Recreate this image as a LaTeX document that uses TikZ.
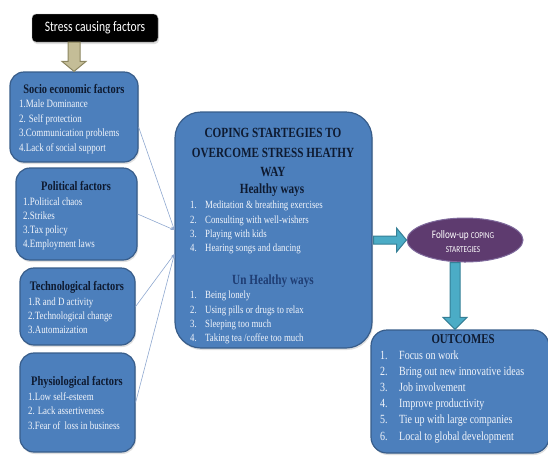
\documentclass[tikz,border=0pt]{standalone}
\usepackage{fontspec}
\setmainfont{Liberation Serif}[FakeStretch=0.8]
\newfontfamily\carl{Carlito}[FakeStretch=0.8]
\usetikzlibrary{shapes.geometric,calc,arrows.meta,shadows}
\definecolor{boxfill}{HTML}{4C7FBC}
\definecolor{boxedge}{HTML}{385D8A}
\definecolor{headcol}{HTML}{0E1A30}
\definecolor{unhcol}{HTML}{1F3D73}
\definecolor{itemcol}{HTML}{F2F5FB}
\definecolor{khaki}{HTML}{C4BD97}
\definecolor{khakiedge}{HTML}{8C8660}
\definecolor{tealf}{HTML}{4BACC6}
\definecolor{teale}{HTML}{357F96}
\definecolor{purp}{HTML}{5E3B6F}
\definecolor{purpedge}{HTML}{7F6A9C}
\definecolor{linkcol}{HTML}{8FA8D0}
\newcommand\fsz[1]{\fontsize{#1}{#1}\selectfont}
\begin{document}
\begin{tikzpicture}[x=1pt,y=-1pt,
  box/.style={draw=boxedge, fill=boxfill, line width=1.2pt, rounded corners=#1,
    drop shadow={opacity=0.25, shadow xshift=1pt, shadow yshift=-2pt}, inner sep=0pt},
  box/.default=14pt,
  ttl/.style={inner sep=0pt, anchor=base, text=headcol, font=\bfseries\fsz{#1}, yshift=-0.3*#1pt},
  itm/.style={inner sep=0pt, anchor=base west, text=itemcol, font=\fsz{#1}, yshift=-0.3*#1pt},
  link/.style={draw=linkcol, line width=0.6pt, -{Stealth[length=4pt,width=3pt]}},
  tealarr/.style={draw=teale, fill=tealf, line width=1pt},
  khakiarr/.style={draw=khakiedge, fill=khaki, line width=1pt},
]
\useasboundingbox (0,0) rectangle (548,456);

% stress box
\node[fill=black, draw=gray!60, rounded corners=4pt, minimum width=126pt, minimum height=28pt,
  inner sep=0pt, text=white, font=\carl\fsz{14.5},
  drop shadow={opacity=0.25, shadow xshift=1pt, shadow yshift=-2pt}] (stress) at (95,28) {Stress causing factors};

% left boxes
\node[box, minimum width=128pt, minimum height=90pt] (socio) at (74,117) {};
\node[box, minimum width=121pt, minimum height=92pt] (polit) at (76.5,214) {};
\node[box, minimum width=115pt, minimum height=77pt] (techn) at (77.5,306.5) {};
\node[box, minimum width=115pt, minimum height=99pt] (physio) at (77.5,402.5) {};

% central and outcome boxes
\node[box=26pt, minimum width=197pt, minimum height=236pt] (central) at (273.5,230) {};
\node[box=16pt, minimum width=178pt, minimum height=123pt] (outc) at (460,391.5) {};

% ellipse
\node[ellipse, draw=purpedge, fill=purp, line width=1pt, minimum width=116pt, minimum height=44pt, inner sep=0pt] (ell) at (465,240) {};
\node[inner sep=0pt, anchor=base, text=white, font=\carl\fsz{11.5}, yshift=-3.5pt] (ellt1) at (463,235) {Follow-up {\fsz{9}COPING}};
\node[inner sep=0pt, anchor=base, text=white, font=\carl\fsz{9}, yshift=-3pt] (ellt2) at (463,249) {STARTEGIES};

% socio text
\node[ttl=13] (socioT) at (74,90) {Socio economic factors};
\node[itm=11.2] (s1) at (19,104) {1.Male Dominance};
\node[itm=11.2] (s2) at (19,119) {2. Self protection};
\node[itm=11.2] (s3) at (19,133) {3.Communication problems};
\node[itm=11.2] (s4) at (19,148) {4.Lack of social support};

% political text
\node[ttl=13] (politT) at (76,187) {Political factors};
\node[itm=11.2] (p1) at (23,202) {1.Political chaos};
\node[itm=11.2] (p2) at (23,216) {2.Strikes};
\node[itm=11.2] (p3) at (23,230) {3.Tax policy};
\node[itm=11.2] (p4) at (23,244) {4.Employment laws};

% technological text
\node[ttl=13] (technT) at (77,287) {Technological factors};
\node[itm=11.1] (t1) at (28,302) {1.R and D activity};
\node[itm=11.1] (t2) at (28,316) {2.Technological change};
\node[itm=11.1] (t3) at (28,330) {3.Automaization};

% physiological text
\node[ttl=13] (physT) at (77,382) {Physiological factors};
\node[itm=11.1] (f1) at (28,397) {1.Low self-esteem};
\node[itm=11.1] (f2) at (28,411) {2. Lack assertiveness};
\node[itm=11.1] (f3) at (28,426) {3.Fear of\ \ loss in business};

% central text
\node[ttl=14] (cT1) at (273,133) {COPING STARTEGIES TO};
\node[ttl=14] (cT2) at (273,153) {OVERCOME STRESS HEATHY};
\node[ttl=14] (cT3) at (273,172) {WAY};
\node[ttl=14] (cH) at (272,189) {Healthy ways};
\node[itm=11] (h1n) at (190,205) {1.};
\node[itm=11] (h1) at (205,205) {Meditation \& breathing exercises};
\node[itm=11] (h2n) at (190,220) {2.};
\node[itm=11] (h2) at (205,220) {Consulting with well-wishers};
\node[itm=11] (h3n) at (190,234) {3.};
\node[itm=11] (h3) at (205,234) {Playing with kids};
\node[itm=11] (h4n) at (190,248) {4.};
\node[itm=11] (h4) at (205,248) {Hearing songs and dancing};
\node[ttl=14, text=unhcol] (cU) at (273,280) {Un Healthy ways};
\node[itm=11] (u1n) at (190,295) {1.};
\node[itm=11] (u1) at (205,295) {Being lonely};
\node[itm=11] (u2n) at (190,310) {2.};
\node[itm=11] (u2) at (205,310) {Using pills or drugs to relax};
\node[itm=11] (u3n) at (190,324) {3.};
\node[itm=11] (u3) at (205,324) {Sleeping too much};
\node[itm=11] (u4n) at (190,338) {4.};
\node[itm=11] (u4) at (205,338) {Taking tea /coffee too much};

% outcomes text
\node[ttl=13.5] (oT) at (463,339) {OUTCOMES};
\node[itm=12.5] (o1n) at (380,356) {1.};
\node[itm=12.5] (o1) at (399,356) {Focus on work};
\node[itm=12.5] (o2n) at (380,372) {2.};
\node[itm=12.5] (o2) at (399,372) {Bring out new innovative ideas};
\node[itm=12.5] (o3n) at (380,388) {3.};
\node[itm=12.5] (o3) at (399,388) {Job involvement};
\node[itm=12.5] (o4n) at (380,404) {4.};
\node[itm=12.5] (o4) at (399,404) {Improve productivity};
\node[itm=12.5] (o5n) at (380,420) {5.};
\node[itm=12.5] (o5) at (399,420) {Tie up with large companies};
\node[itm=12.5] (o6n) at (380,437) {6.};
\node[itm=12.5] (o6) at (399,437) {Local to global development};

% thin connectors
\coordinate (inA) at (central.west);
\coordinate (inB) at ($(central.west)+(0,24)$);
\draw[link] ($(socio.east)+(0,10)$) -- (inA);
\draw[link] (polit.east) -- (inA);
\draw[link] (techn.east) -- (inB);
\draw[link] (physio.east) -- (inB);

% khaki block arrow
\coordinate (ks) at (stress.south -| socio.north);
\draw[khakiarr] ($(ks)+(-6,0)$) -- ($(socio.north)+(-6,-10)$) -- ($(socio.north)+(-12,-10)$)
  -- (socio.north) -- ($(socio.north)+(12,-10)$) -- ($(socio.north)+(6,-10)$) -- ($(ks)+(6,0)$) -- cycle;

% teal right arrow
\coordinate (rs) at (central.east |- ell.west);
\draw[tealarr] ($(rs)+(1,-4)$) -- ($(ell.west)+(-10,-4)$) -- ($(ell.west)+(-10,-12)$)
  -- (ell.west) -- ($(ell.west)+(-10,12)$) -- ($(ell.west)+(-10,4)$) -- ($(rs)+(1,4)$) -- cycle;

% teal down arrow
\coordinate (ds) at ($(ell.south)+(-10,0)$);
\coordinate (de) at (ds |- outc.north);
\draw[tealarr] ($(ds)+(-5,0)$) -- ($(de)+(-5,-12)$) -- ($(de)+(-12,-12)$)
  -- (de) -- ($(de)+(12,-12)$) -- ($(de)+(5,-12)$) -- ($(ds)+(5,0)$) -- cycle;
\end{tikzpicture}
\end{document}
